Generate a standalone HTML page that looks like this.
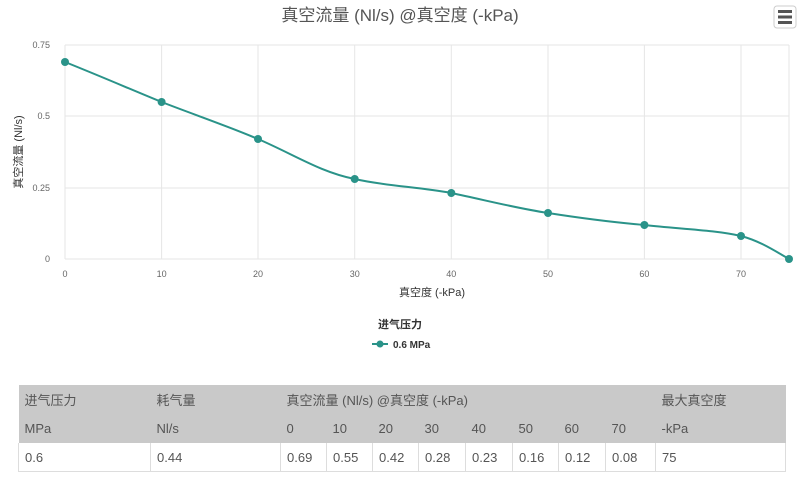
<!DOCTYPE html>
<html><head><meta charset="utf-8"><style>
body{margin:0;width:800px;height:478px;background:#fff;font-family:"Liberation Sans","Noto Sans CJK SC",sans-serif;position:relative;overflow:hidden}
table{position:absolute;left:18px;top:385px;width:768px;border-collapse:collapse;font-size:13px;color:#555}
td{padding:0 0 0 6px;text-align:left}
tr.h td{background:#c9c9c9;height:29px}
tr.d td{height:28px;border-left:1px solid #ddd;border-bottom:1px solid #ddd}
</style></head><body>
<svg width="800" height="380" style="position:absolute;left:0;top:0">
<text x="400" y="21" text-anchor="middle" font-size="17" fill="#555">真空流量 (Nl/s) @真空度 (-kPa)</text>
<rect x="774" y="6" width="22" height="22" rx="3" fill="#fff" stroke="#ccc"/>
<g fill="#555"><rect x="778" y="10" width="14" height="3"/><rect x="778" y="15.5" width="14" height="3"/><rect x="778" y="21" width="14" height="3"/></g>
<g stroke="#e6e6e6" stroke-width="1">
<line x1="65" y1="45" x2="789" y2="45"/><line x1="65" y1="116" x2="789" y2="116"/><line x1="65" y1="188" x2="789" y2="188"/><line x1="65" y1="259" x2="789" y2="259"/>
<line x1="65" y1="45" x2="65" y2="259"/><line x1="161.6" y1="45" x2="161.6" y2="259"/><line x1="258" y1="45" x2="258" y2="259"/><line x1="354.7" y1="45" x2="354.7" y2="259"/><line x1="451.3" y1="45" x2="451.3" y2="259"/><line x1="548" y1="45" x2="548" y2="259"/><line x1="644.4" y1="45" x2="644.4" y2="259"/><line x1="741" y1="45" x2="741" y2="259"/><line x1="789" y1="45" x2="789" y2="259"/>
</g>
<g font-size="9" fill="#666" text-anchor="end"><text x="50" y="48">0.75</text><text x="50" y="119">0.5</text><text x="50" y="191">0.25</text><text x="50" y="262">0</text></g>
<g font-size="9" fill="#666" text-anchor="middle"><text x="65" y="277">0</text><text x="161.6" y="277">10</text><text x="258" y="277">20</text><text x="354.7" y="277">30</text><text x="451.3" y="277">40</text><text x="548" y="277">50</text><text x="644.4" y="277">60</text><text x="741" y="277">70</text></g>
<text x="432" y="296" text-anchor="middle" font-size="11" fill="#333">真空度 (-kPa)</text>
<text transform="translate(22,152) rotate(-90)" text-anchor="middle" font-size="11" fill="#333">真空流量 (Nl/s)</text>
<path d="M65,62 C100,76 130,89 161.6,102 C195,115 225,125 258,139 C295,155 320,172 354.7,179 C385,186 420,187 451.3,193 C485,200 515,208 548,213 C580,218 610,222 644.4,225 C680,229 715,230 741,236 C760,241 775,251 789,259" fill="none" stroke="#2a9389" stroke-width="2"/>
<g fill="#2a9389"><circle cx="65" cy="62" r="4"/><circle cx="161.6" cy="102" r="4"/><circle cx="258" cy="139" r="4"/><circle cx="354.7" cy="179" r="4"/><circle cx="451.3" cy="193" r="4"/><circle cx="548" cy="213" r="4"/><circle cx="644.4" cy="225" r="4"/><circle cx="741" cy="236" r="4"/><circle cx="789" cy="259" r="4"/></g>
<text x="400" y="328" text-anchor="middle" font-size="11" font-weight="bold" fill="#333">进气压力</text>
<line x1="372" y1="344" x2="388" y2="344" stroke="#2a9389" stroke-width="2"/><circle cx="380" cy="344" r="3.5" fill="#2a9389"/>
<text x="393" y="348" font-size="10" font-weight="bold" fill="#333">0.6 MPa</text>
</svg>
<table>
<tr class="h"><td style="width:126px">进气压力</td><td style="width:124px">耗气量</td><td colspan="8">真空流量 (Nl/s) @真空度 (-kPa)</td><td>最大真空度</td></tr>
<tr class="h"><td>MPa</td><td>Nl/s</td><td style="width:40px">0</td><td style="width:40px">10</td><td style="width:40px">20</td><td style="width:41px">30</td><td style="width:41px">40</td><td style="width:40px">50</td><td style="width:41px">60</td><td style="width:44px">70</td><td>-kPa</td></tr>
<tr class="d"><td>0.6</td><td>0.44</td><td>0.69</td><td>0.55</td><td>0.42</td><td>0.28</td><td>0.23</td><td>0.16</td><td>0.12</td><td>0.08</td><td style="border-right:1px solid #ddd">75</td></tr>
</table>
</body></html>
